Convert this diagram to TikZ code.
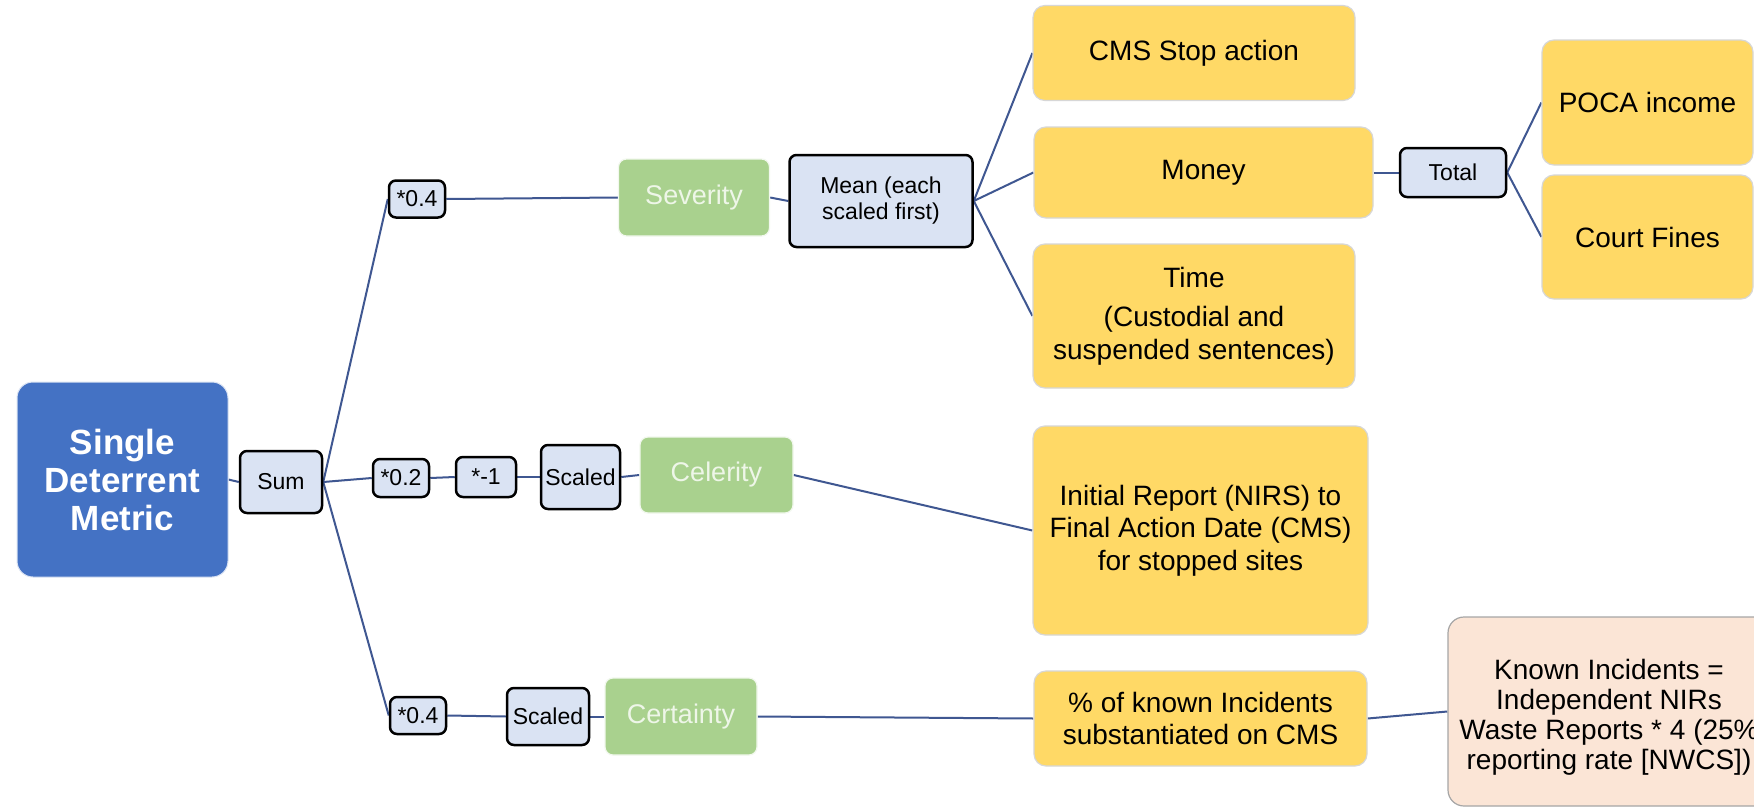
\documentclass[tikz,border=0pt]{standalone}
\usepackage{fontspec}
\setmainfont{Liberation Sans}
\usetikzlibrary{backgrounds}
\definecolor{sdmblue}{RGB}{68,114,196}
\definecolor{opfill}{RGB}{218,227,243}
\definecolor{grn}{RGB}{169,209,142}
\definecolor{grntext}{RGB}{238,246,232}
\definecolor{ylw}{RGB}{255,217,102}
\definecolor{peach}{RGB}{251,229,214}
\definecolor{conn}{RGB}{63,87,145}
\definecolor{softedge}{RGB}{215,215,215}
\tikzset{
  box/.style={rectangle, inner sep=0pt, align=center},
  sdmbox/.style={box, fill=sdmblue, draw=white!80!sdmblue, line width=1pt, rounded corners=16pt, text=white, font=\fontsize{35}{38}\selectfont\bfseries},
  opbox/.style={box, fill=opfill, draw=black, line width=2.5pt, rounded corners=7pt, font=\fontsize{23}{26}\selectfont},
  dimbox/.style={box, fill=grn, draw=white!85!grn, line width=1.2pt, rounded corners=8pt, text=grntext, font=\fontsize{27}{30}\selectfont},
  leafbox/.style={box, fill=ylw, draw=softedge, line width=1.2pt, rounded corners=12pt, font=\fontsize{28}{32.5}\selectfont},
  notebox/.style={box, fill=peach, draw=gray!70, line width=1.2pt, rounded corners=16pt},
  link/.style={draw=conn, line width=2pt},
}
\begin{document}
\begin{tikzpicture}[x=1pt,y=-1pt]
\clip (0,0) rectangle (1754,811);

% root
\node[sdmbox, minimum width=211pt, minimum height=195pt] (sdm) at (122.5,479.5) {Single\\Deterrent\\Metric};
\node[opbox, minimum width=82pt, minimum height=62pt] (sum) at (281,482) {Sum};

% severity branch
\node[opbox, minimum width=56pt, minimum height=37pt] (pa) at (417,199) {*0.4};
\node[dimbox, minimum width=151pt, minimum height=77pt] (sev) at (694,197.5) {Severity};
\node[opbox, minimum width=183pt, minimum height=92pt] (mean) at (881,201) {Mean (each\\scaled first)};
\node[leafbox, minimum width=322pt, minimum height=95pt] (cms) at (1194,53) {CMS Stop action};
\node[leafbox, minimum width=339pt, minimum height=91pt] (money) at (1203.5,172.5) {Money};
\node[leafbox, minimum width=322pt, minimum height=144pt] (time) at (1194,316) {Time\\[7pt](Custodial and\\suspended sentences)};
\node[opbox, minimum width=106pt, minimum height=49pt] (total) at (1453,172.5) {Total};
\node[leafbox, minimum width=211pt, minimum height=125pt] (poca) at (1647.5,102.5) {POCA income};
\node[leafbox, minimum width=211pt, minimum height=124pt] (court) at (1647.5,237) {Court Fines};

% celerity branch
\node[opbox, minimum width=56pt, minimum height=38pt] (pb) at (401,478) {*0.2};
\node[opbox, minimum width=60pt, minimum height=40pt] (neg) at (486,477) {*-1};
\node[opbox, minimum width=79pt, minimum height=64pt] (scb) at (580.5,477) {Scaled};
\node[dimbox, minimum width=153pt, minimum height=76pt] (cel) at (716.5,475) {Celerity};
\node[leafbox, minimum width=335pt, minimum height=209pt] (init) at (1200.5,530.5) {Initial Report (NIRS) to\\Final Action Date (CMS)\\for stopped sites};

% certainty branch
\node[opbox, minimum width=56pt, minimum height=37pt] (pc) at (418,715.5) {*0.4};
\node[opbox, minimum width=82pt, minimum height=57pt] (scc) at (548,716.5) {Scaled};
\node[dimbox, minimum width=152pt, minimum height=77pt] (cer) at (681,716.5) {Certainty};
\node[leafbox, minimum width=333pt, minimum height=95pt] (pct) at (1200.5,718.5) {\% of known Incidents\\substantiated on CMS};
\node[notebox, minimum width=322pt, minimum height=189pt] (known) at (1609,711.5) {};
\node[box, font=\fontsize{28}{30}\selectfont] (knowntext) at (1609,717) {Known Incidents =\\Independent NIRs\\Waste Reports * 4 (25\%\\reporting rate [NWCS])};

% connectors
\begin{scope}[on background layer]
\fill[white] (0,0) rectangle (1754,811);
\draw[link] (sdm.east) -- (sum.west);
\draw[link] (sum.east) -- (pa.west);
\draw[link] (sum.east) -- (pb.west);
\draw[link] (sum.east) -- (pc.west);
\draw[link] (pa.east) -- (sev.west);
\draw[link] (sev.east) -- (mean.west);
\draw[link] (mean.east) -- (cms.west);
\draw[link] (mean.east) -- (money.west);
\draw[link] (mean.east) -- (time.west);
\draw[link] (money.east) -- (total.west);
\draw[link] (total.east) -- (poca.west);
\draw[link] (total.east) -- (court.west);
\draw[link] (pb.east) -- (neg.west);
\draw[link] (neg.east) -- (scb.west);
\draw[link] (scb.east) -- (cel.west);
\draw[link] (cel.east) -- (init.west);
\draw[link] (pc.east) -- (scc.west);
\draw[link] (scc.east) -- (cer.west);
\draw[link] (cer.east) -- (pct.west);
\draw[link] (pct.east) -- (known.west);
\end{scope}
\end{tikzpicture}
\end{document}
